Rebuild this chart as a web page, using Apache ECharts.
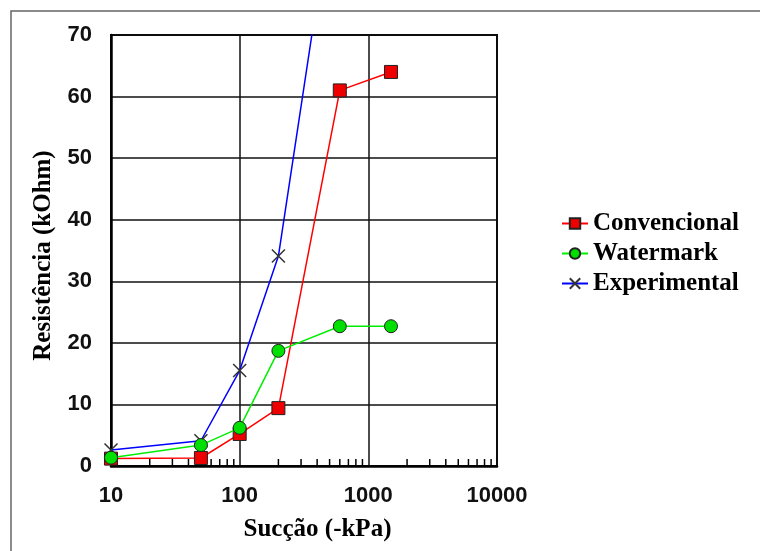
<!DOCTYPE html>
<html>
<head>
<meta charset="utf-8">
<script src="https://cdn.jsdelivr.net/npm/echarts@6/dist/echarts.min.js"></script>
<style>html,body{margin:0;padding:0;background:#fff}#c{width:760px;height:551px}</style>
</head>
<body>
<div id="c"></div>
<script>
var seriesNames = ['Convencional', 'Watermark', 'Experimental'];
var convencional = [[10, 1.2], [50, 1.3], [100, 5.2], [200, 9.4], [600, 61], [1500, 64]];
var watermark = [[10, 1.35], [50, 3.4], [100, 6.2], [200, 18.7], [600, 22.7], [1500, 22.7]];
var experimental = [[10, 2.6], [50, 4.1], [100, 15.5], [200, 34.1], [600, 100]];
var minorTickValues = [20, 30, 40, 50, 60, 70, 80, 90, 200, 300, 400, 500, 600, 700, 800, 900, 2000, 3000, 4000, 5000, 6000, 7000, 8000, 9000];
var yTicks = [0, 10, 20, 30, 40, 50, 60, 70];

var chart = echarts.init(document.getElementById('c'));
var xPath = 'path://M0,0L10,10M10,0L0,10';
chart.setOption({
  animation: false,
  backgroundColor: '#fff',
  graphic: [{
    type: 'rect', shape: {x: 11, y: 11, width: 800, height: 600},
    style: {fill: 'none', stroke: '#666', lineWidth: 1.5}, silent: true, z: -1
  }],
  grid: {left: 111, top: 35, right: 263, bottom: 85, show: true, borderColor: '#000', borderWidth: 2, backgroundColor: 'transparent'},
  legend: {
    data: seriesNames,
    orient: 'vertical', left: 556, top: 206, itemGap: 5, itemWidth: 26, itemHeight: 13,
    textStyle: {fontFamily: 'Liberation Serif', fontWeight: 'bold', fontSize: 25, color: '#000'}
  },
  xAxis: {
    type: 'log', logBase: 10, min: 10, max: 10000,
    name: 'Sucção (-kPa)', nameLocation: 'middle', nameGap: 51,
    nameTextStyle: {fontFamily: 'Liberation Serif', fontWeight: 'bold', fontSize: 25, color: '#000', padding: [0, 0, 0, 27]},
    axisLine: {lineStyle: {color: '#000', width: 2.5}},
    axisTick: {show: false},
    axisLabel: {fontFamily: 'Liberation Sans', fontWeight: 'bold', fontSize: 22, color: '#111', margin: 19,
      formatter: function (v) { return String(Math.round(v)); }},
    splitLine: {show: true, lineStyle: {color: '#111', width: 1.5}}
  },
  yAxis: {
    type: 'value', min: yTicks[0], max: yTicks[yTicks.length - 1], interval: 10,
    name: 'Resistência (kOhm)', nameLocation: 'middle', nameGap: 55,
    nameTextStyle: {fontFamily: 'Liberation Serif', fontWeight: 'bold', fontSize: 25, color: '#000', padding: [0, 10, 0, 0]},
    axisLine: {show: true, lineStyle: {color: '#000', width: 2.5}},
    axisTick: {show: false},
    axisLabel: {fontFamily: 'Liberation Sans', fontWeight: 'bold', fontSize: 22, color: '#111', margin: 19},
    splitLine: {show: true, lineStyle: {color: '#111', width: 1.5}}
  },
  series: [
    {
      type: 'custom', name: 'minorTicks', silent: true, z: 1,
      data: minorTickValues.map(function (v) { return [v, 0]; }),
      renderItem: function (params, api) {
        var p = api.coord([api.value(0), 0]);
        return {type: 'line', shape: {x1: p[0], y1: p[1], x2: p[0], y2: p[1] - 7},
          style: {stroke: '#000', lineWidth: 1.5}};
      }
    },
    {
      name: seriesNames[0], type: 'line', data: convencional, z: 3,
      symbol: 'rect', symbolSize: 13,
      lineStyle: {color: '#ff0000', width: 1.5},
      itemStyle: {color: '#ee0000', borderColor: '#222', borderWidth: 1}
    },
    {
      name: seriesNames[1], type: 'line', data: watermark, z: 4,
      symbol: 'circle', symbolSize: 13,
      lineStyle: {color: '#00ee00', width: 1.5},
      itemStyle: {color: '#00e000', borderColor: '#222', borderWidth: 1}
    },
    {
      name: seriesNames[2], type: 'line', data: experimental, z: 2,
      symbol: xPath, symbolSize: 13,
      lineStyle: {color: '#0000ff', width: 1.5},
      itemStyle: {color: '#333', borderColor: '#333', borderWidth: 1.5}
    }
  ]
});
</script>
</body>
</html>
